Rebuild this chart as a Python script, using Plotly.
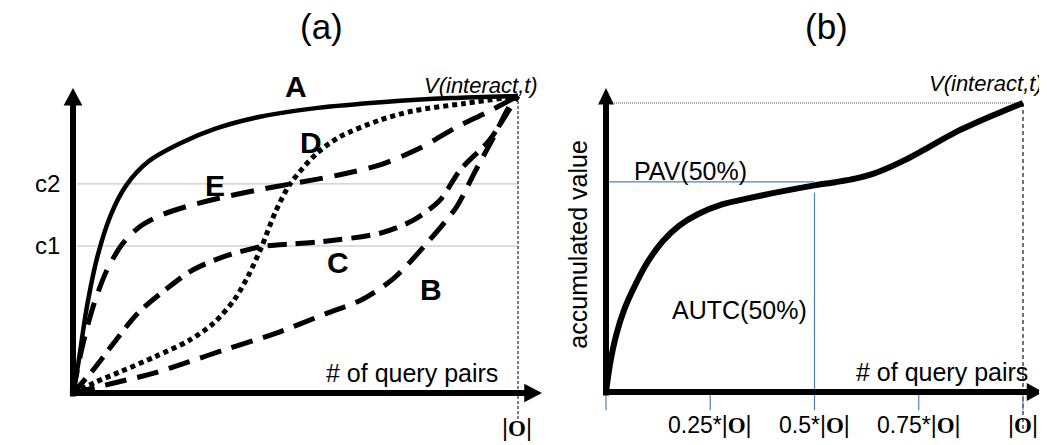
import plotly.graph_objects as go

W, H = 1047, 445
OFF = 8                      # default body margin of the written page
FW, FH = W - OFF, H - OFF    # figure size so that the page pixels line up

# ---- panel (a): five accumulated-value curves (x, y as fraction of |O| and V)
a_x = [0, 0.012, 0.03, 0.055, 0.085, 0.12, 0.17, 0.24, 0.32, 0.42, 0.55, 0.7, 0.85, 1.0]
a_y = [0, 0.10, 0.28, 0.46, 0.60, 0.70, 0.78, 0.84, 0.89, 0.93, 0.96, 0.98, 0.993, 1.0]

b_x = [0, 0.09, 0.18, 0.26, 0.34, 0.455, 0.57, 0.65, 0.72, 0.795, 0.862, 0.905, 0.942, 0.98, 1.0]
b_y = [0, 0.033, 0.066, 0.105, 0.145, 0.201, 0.268, 0.315, 0.385, 0.504, 0.627, 0.75, 0.852, 0.964, 1.0]

c_x = [0, 0.045, 0.091, 0.145, 0.207, 0.269, 0.339, 0.424, 0.494, 0.555, 0.69, 0.765, 0.825, 0.87, 0.935, 0.98, 1.0]
c_y = [0, 0.077, 0.167, 0.268, 0.347, 0.414, 0.459, 0.493, 0.502, 0.509, 0.538, 0.582, 0.650, 0.751, 0.85, 0.953, 1.0]

d_x = [0, 0.053, 0.107, 0.184, 0.262, 0.316, 0.362, 0.393, 0.424, 0.455, 0.488, 0.548, 0.6, 0.69, 0.765, 0.88, 1.0]
d_y = [0, 0.038, 0.072, 0.122, 0.178, 0.235, 0.313, 0.392, 0.493, 0.61, 0.704, 0.807, 0.863, 0.919, 0.95, 0.975, 1.0]

e_x = [0, 0.02, 0.045, 0.075, 0.11, 0.15, 0.2, 0.26, 0.34, 0.42, 0.49, 0.6, 0.69, 0.78, 0.863, 0.93, 1.0]
e_y = [0, 0.15, 0.29, 0.41, 0.50, 0.56, 0.60, 0.63, 0.66, 0.685, 0.704, 0.735, 0.768, 0.825, 0.896, 0.945, 1.0]

curve_names = ["A", "B", "C", "D", "E"]
c_levels = [0.495, 0.704]          # c1, c2
c_labels = ["c1", "c2"]

# ---- panel (b): single curve with PAV / AUTC at 50 %
v_x = [0, 0.01, 0.025, 0.045, 0.07, 0.1, 0.135, 0.175, 0.22, 0.28, 0.34, 0.4, 0.5, 0.55,
       0.6, 0.64, 0.68, 0.72, 0.76, 0.84, 0.92, 1.0]
v_y = [0, 0.10, 0.20, 0.29, 0.37, 0.45, 0.52, 0.575, 0.615, 0.65, 0.67, 0.688, 0.715, 0.726,
       0.739, 0.755, 0.778, 0.805, 0.836, 0.9, 0.952, 1.0]
pav_level = 0.727
tick_pos = [0, 0.25, 0.5, 0.75, 1.0]
O = "<span style='font-family:Liberation Serif'><b>O</b></span>"
tick_text = ["", "0.25*|" + O + "|", "0.5*|" + O + "|", "0.75*|" + O + "|", "|" + O + "|"]

FONT = "Liberation Sans, Arial, sans-serif"
BLUE = "#4F81BD"


def xdom(p0, p1, lo, hi):
    # page pixel p0 <-> 0, p1 <-> 1
    return [(p0 + (p1 - p0) * lo - OFF) / FW, (p0 + (p1 - p0) * hi - OFF) / FW]


def ydom(p0, p1, lo, hi):
    return [1 - (p0 + (p1 - p0) * lo - OFF) / FH, 1 - (p0 + (p1 - p0) * hi - OFF) / FH]


fig = go.Figure()

styles = [
    dict(width=4.5, dash="solid"),
    dict(width=5, dash="22px,11px"),
    dict(width=5, dash="19px,9px"),
    dict(width=5, dash="5px,4px"),
    dict(width=5, dash="23px,12px"),
]
for (xs, ys), st in zip([(a_x, a_y), (b_x, b_y), (c_x, c_y), (d_x, d_y), (e_x, e_y)], styles):
    fig.add_trace(go.Scatter(x=xs, y=ys, mode="lines",
                             line=dict(color="black", shape="spline", smoothing=0.8, **st),
                             xaxis="x", yaxis="y", hoverinfo="skip"))

fig.add_trace(go.Scatter(x=v_x, y=v_y, mode="lines",
                         line=dict(color="black", width=6, shape="spline", smoothing=0.8),
                         xaxis="x2", yaxis="y2", hoverinfo="skip"))

shapes = []
# reference lines panel (a)
for lv in c_levels:
    shapes.append(dict(type="line", xref="x", yref="y", x0=0.01, x1=1, y0=lv, y1=lv,
                       line=dict(color="#777", width=1, dash="1px,1px"), layer="below"))
shapes.append(dict(type="line", xref="x", yref="y", x0=1, x1=1, y0=1, y1=-0.095,
                   line=dict(color="black", width=1, dash="3px,2px"), layer="below"))
# axes panel (a)
shapes.append(dict(type="line", xref="x", yref="y", x0=0, x1=0, y0=-0.012, y1=0.975,
                   line=dict(color="black", width=6)))
shapes.append(dict(type="line", xref="x", yref="y", x0=-0.007, x1=1.02, y0=0, y1=0,
                   line=dict(color="black", width=6)))
shapes.append(dict(type="path", xref="x", yref="y", fillcolor="black", line=dict(width=0),
                   path="M -0.021 0.968 L 0 1.027 L 0.021 0.968 Z"))
shapes.append(dict(type="path", xref="x", yref="y", fillcolor="black", line=dict(width=0),
                   path="M 1.014 -0.031 L 1.054 0 L 1.014 0.031 Z"))

# panel (b)
shapes.append(dict(type="line", xref="x2", yref="y2", x0=0, x1=1, y0=1, y1=1,
                   line=dict(color="#555", width=1, dash="1px,1px"), layer="below"))
shapes.append(dict(type="line", xref="x2", yref="y2", x0=1, x1=1, y0=1, y1=-0.142,
                   line=dict(color="#444", width=1.5, dash="4px,3px"), layer="below"))
shapes.append(dict(type="line", xref="x2", yref="y2", x0=0.003, x1=0.5, y0=pav_level, y1=pav_level,
                   line=dict(color=BLUE, width=1.2), layer="below"))
shapes.append(dict(type="line", xref="x2", yref="y2", x0=0.5, x1=0.5, y0=0.69, y1=0,
                   line=dict(color=BLUE, width=1.2), layer="below"))
for t in tick_pos:
    shapes.append(dict(type="line", xref="x2", yref="y2", x0=t, x1=t, y0=0, y1=-0.063,
                       line=dict(color=BLUE, width=1.2), layer="below"))
shapes.append(dict(type="line", xref="x2", yref="y2", x0=0, x1=0, y0=-0.012, y1=1.0,
                   line=dict(color="black", width=6)))
shapes.append(dict(type="line", xref="x2", yref="y2", x0=-0.007, x1=1.015, y0=0, y1=0,
                   line=dict(color="black", width=6)))
shapes.append(dict(type="path", xref="x2", yref="y2", fillcolor="black", line=dict(width=0),
                   path="M -0.019 0.995 L 0 1.052 L 0.019 0.995 Z"))
shapes.append(dict(type="path", xref="x2", yref="y2", fillcolor="black", line=dict(width=0),
                   path="M 1.009 -0.031 L 1.048 0 L 1.009 0.031 Z"))

ann = []


def txt(x, y, s, ref="", size=25, **kw):
    d = dict(x=x, y=y, text=s, xref="x" + ref, yref="y" + ref, showarrow=False,
             font=dict(family=FONT, size=size, color="black"))
    d.update(kw)
    ann.append(d)


# panel (a) labels
for name, (lx, ly) in zip(curve_names, [(0.5, 1.031), (0.804, 0.347), (0.596, 0.441),
                                        (0.535, 0.845), (0.319, 0.70)]):
    txt(lx, ly, "<b>" + name + "</b>", size=30)
for lab, lv in zip(c_labels, c_levels):
    txt(-0.057, lv, lab, size=24)
txt(-0.115, 0.5, "accumulated value", textangle=-90)
txt(0.96, 0.067, "# of query pairs", xanchor="right")
txt(0.784, 1.037, "<i>V(interact,t)</i>", size=22, xanchor="left")
txt(0.998, -0.118, "|" + O + "|", size=23)

# panel (b) labels
txt(-0.067, 0.51, "accumulated value", ref="2", textangle=-90)
txt(1.017, 0.069, "# of query pairs", ref="2", xanchor="right")
txt(0.77, 1.066, "<i>V(interact,t)</i>", ref="2", size=22, xanchor="left")
txt(0.062, 0.765, "PAV(50%)", ref="2", xanchor="left")
txt(0.153, 0.284, "AUTC(50%)", ref="2", xanchor="left")
for t, s in zip(tick_pos, tick_text):
    if s:
        txt(t, -0.114, s, ref="2", size=23)

# panel titles
for lab, px in [("(a)", 321), ("(b)", 826)]:
    ann.append(dict(x=(px - OFF) / FW, y=1 - (27 - OFF) / FH, xref="paper", yref="paper",
                    xanchor="center", yanchor="middle", text=lab, showarrow=False,
                    font=dict(family=FONT, size=35, color="black")))

ax = dict(visible=False, showgrid=False, zeroline=False, fixedrange=True)
fig.update_layout(
    width=FW, height=FH,
    margin=dict(l=0, r=0, t=0, b=0),
    paper_bgcolor="white", plot_bgcolor="white",
    showlegend=False,
    xaxis=dict(ax, range=[-0.1, 1.1], domain=xdom(73, 518, -0.1, 1.1), anchor="y"),
    yaxis=dict(ax, range=[-0.16, 1.2], domain=ydom(393, 96, -0.16, 1.2), anchor="x"),
    xaxis2=dict(ax, range=[-0.08, 1.055], domain=xdom(606, 1023, -0.08, 1.055), anchor="y2"),
    yaxis2=dict(ax, range=[-0.16, 1.2], domain=ydom(392, 103, -0.16, 1.2), anchor="x2"),
    shapes=shapes,
    annotations=ann,
)

fig.write_html("out.html")
